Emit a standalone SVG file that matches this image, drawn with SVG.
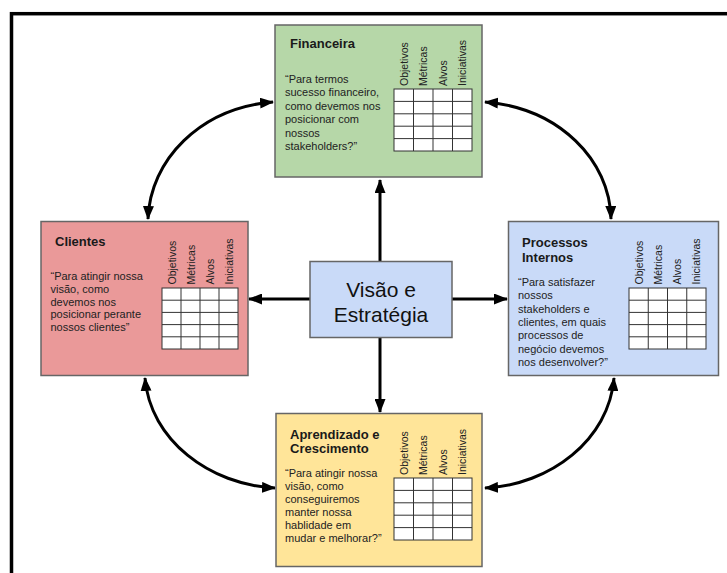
<svg xmlns="http://www.w3.org/2000/svg" width="727" height="573" viewBox="0 0 727 573">
<defs>
<style>
.box{stroke:#666;stroke-width:1.5}
.hdr{font-family:"Liberation Sans",Arial,sans-serif;font-weight:bold;font-size:13px;fill:#1a1a1a}
.body{font-family:"Liberation Sans",Arial,sans-serif;font-size:11px;fill:#222}
.col{font-family:"Liberation Sans",Arial,sans-serif;font-size:10.5px;fill:#222}
.grid{fill:#fff;stroke:#333;stroke-width:1}
.gl{fill:none;stroke:#333;stroke-width:1}
.conn{fill:none;stroke:#000;stroke-width:3}
.center{font-family:"Liberation Sans",Arial,sans-serif;font-size:21px;fill:#111}
</style>
<marker id="ah" viewBox="0 0 14 11" refX="13" refY="5.5" markerWidth="14" markerHeight="11" markerUnits="userSpaceOnUse" orient="auto-start-reverse">
<path d="M0,0 L14,5.5 L0,11 z" fill="#000"/>
</marker>
</defs>
<rect width="727" height="573" fill="#fff"/>
<rect x="11.5" y="13.7" width="800" height="700" fill="none" stroke="#000" stroke-width="3.5"/>

<g id="connectors">
<path class="conn" d="M380 261V180" marker-end="url(#ah)"/>
<path class="conn" d="M310 299H249" marker-end="url(#ah)"/>
<path class="conn" d="M452 299H507" marker-end="url(#ah)"/>
<path class="conn" d="M380 338V412" marker-end="url(#ah)"/>
<path class="conn" d="M148 219C150 160 200 108 273 102" marker-start="url(#ah)" marker-end="url(#ah)"/>
<path class="conn" d="M485 102C559 108 610 160 611 219" marker-start="url(#ah)" marker-end="url(#ah)"/>
<path class="conn" d="M145 378C150 440 210 485 275 488" marker-start="url(#ah)" marker-end="url(#ah)"/>
<path class="conn" d="M614 378C609 440 550 485 485 488" marker-start="url(#ah)" marker-end="url(#ah)"/>
</g>

<g id="financeira">
<rect class="box" x="275" y="25" width="207" height="152" fill="#b6d7a8"/>
<text class="hdr" x="290" y="48">Financeira</text>
<text class="body" x="285" y="83">“Para termos</text>
<text class="body" x="285" y="96.4">sucesso financeiro,</text>
<text class="body" x="285" y="109.8">como devemos nos</text>
<text class="body" x="285" y="123.2">posicionar com</text>
<text class="body" x="285" y="136.6">nossos</text>
<text class="body" x="285" y="150">stakeholders?”</text>
<rect class="grid" x="394" y="89" width="78" height="62"/>
<path class="gl" d="M413.5 89V151M433 89V151M452.5 89V151M394 101.4H472M394 113.8H472M394 126.2H472M394 138.6H472"/>
<text class="col" transform="translate(407.5 86) rotate(-90)">Objetivos</text>
<text class="col" transform="translate(427 86) rotate(-90)">Métricas</text>
<text class="col" transform="translate(446.5 86) rotate(-90)">Alvos</text>
<text class="col" transform="translate(466 86) rotate(-90)">Iniciativas</text>
</g>

<g id="clientes">
<rect class="box" x="41" y="221.5" width="207" height="154" fill="#ea9999"/>
<text class="hdr" x="55" y="246">Clientes</text>
<text class="body" x="50.5" y="280">“Para atingir nossa</text>
<text class="body" x="50.5" y="292.8">visão, como</text>
<text class="body" x="50.5" y="305.6">devemos nos</text>
<text class="body" x="50.5" y="318.4">posicionar perante</text>
<text class="body" x="50.5" y="331.2">nossos clientes”</text>
<rect class="grid" x="162" y="288" width="76" height="61"/>
<path class="gl" d="M181 288V349M200 288V349M219 288V349M162 300.2H238M162 312.4H238M162 324.6H238M162 336.8H238"/>
<text class="col" transform="translate(175.5 284.5) rotate(-90)">Objetivos</text>
<text class="col" transform="translate(194.5 284.5) rotate(-90)">Métricas</text>
<text class="col" transform="translate(213.5 284.5) rotate(-90)">Alvos</text>
<text class="col" transform="translate(232.5 284.5) rotate(-90)">Iniciativas</text>
</g>

<g id="processos">
<rect class="box" x="508.5" y="221.5" width="210" height="154" fill="#c9daf8"/>
<text class="hdr" x="522" y="247">Processos</text>
<text class="hdr" x="522" y="262">Internos</text>
<text class="body" x="518" y="286">“Para satisfazer</text>
<text class="body" x="518" y="299.3">nossos</text>
<text class="body" x="518" y="312.6">stakeholders e</text>
<text class="body" x="518" y="325.9">clientes, em quais</text>
<text class="body" x="518" y="339.2">processos de</text>
<text class="body" x="518" y="352.5">negócio devemos</text>
<text class="body" x="518" y="365.8">nos desenvolver?”</text>
<rect class="grid" x="629" y="288" width="77" height="61"/>
<path class="gl" d="M648.25 288V349M667.5 288V349M686.75 288V349M629 300.2H706M629 312.4H706M629 324.6H706M629 336.8H706"/>
<text class="col" transform="translate(642.5 284.5) rotate(-90)">Objetivos</text>
<text class="col" transform="translate(662 284.5) rotate(-90)">Métricas</text>
<text class="col" transform="translate(681 284.5) rotate(-90)">Alvos</text>
<text class="col" transform="translate(700 284.5) rotate(-90)">Iniciativas</text>
</g>

<g id="aprendizado">
<rect class="box" x="276" y="413.5" width="206" height="153" fill="#ffe599"/>
<text class="hdr" x="290" y="438.5">Aprendizado e</text>
<text class="hdr" x="290" y="453">Crescimento</text>
<text class="body" x="285" y="476.7">“Para atingir nossa</text>
<text class="body" x="285" y="489.8">visão, como</text>
<text class="body" x="285" y="502.9">conseguiremos</text>
<text class="body" x="285" y="516">manter nossa</text>
<text class="body" x="285" y="529.1">hablidade em</text>
<text class="body" x="285" y="542.2">mudar e melhorar?”</text>
<rect class="grid" x="394" y="478" width="78" height="62"/>
<path class="gl" d="M413.5 478V540M433 478V540M452.5 478V540M394 490.4H472M394 502.8H472M394 515.2H472M394 527.6H472"/>
<text class="col" transform="translate(407.5 475) rotate(-90)">Objetivos</text>
<text class="col" transform="translate(427 475) rotate(-90)">Métricas</text>
<text class="col" transform="translate(446.5 475) rotate(-90)">Alvos</text>
<text class="col" transform="translate(466 475) rotate(-90)">Iniciativas</text>
</g>

<g id="visao">
<rect class="box" x="310" y="261.5" width="142" height="76" fill="#c9daf8"/>
<text class="center" x="381" y="297" text-anchor="middle">Visão e</text>
<text class="center" x="381" y="322" text-anchor="middle">Estratégia</text>
</g>
</svg>
